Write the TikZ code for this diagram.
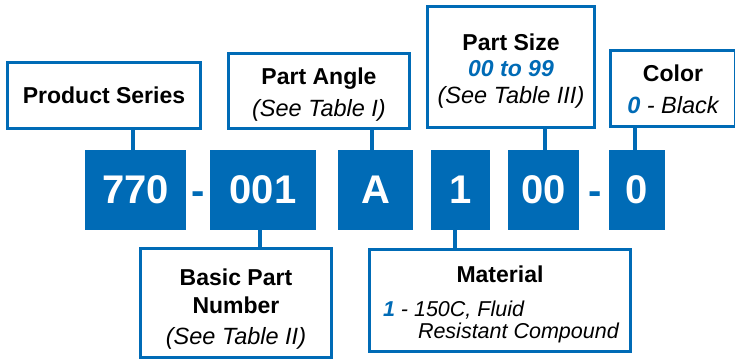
\documentclass[tikz,border=0pt]{standalone}
\usepackage{fontspec}
\setmainfont{Liberation Sans}
\usetikzlibrary{positioning}
\definecolor{codeblue}{HTML}{006BB6}
\newcommand{\tabnote}[1]{{\fontsize{23.5}{27}\selectfont\itshape #1}}
\newcommand{\matnote}[1]{{\fontsize{21.5}{24}\selectfont\itshape #1}}
\newcommand{\hl}[1]{{\color{codeblue}\bfseries\itshape #1}}
\newcommand{\lift}[1]{\rule{0pt}{#1}}

\begin{document}
\begin{tikzpicture}[x=1pt, y=-1pt,
    label box/.style={draw=codeblue, line width=3.2pt, fill=white, align=center, inner sep=0pt, font=\fontsize{23}{28}\selectfont},
    code box/.style={fill=codeblue, text=white, inner sep=0pt, minimum height=80pt, font=\fontsize{40}{40}\selectfont\bfseries},
    sep/.style={text=codeblue, inner sep=0pt, anchor=base, font=\fontsize{40}{40}\selectfont\bfseries},
    link/.style={draw=codeblue, line width=4.2pt}]
\useasboundingbox (0,0) rectangle (735,360);

% part number
\node[code box, minimum width=101pt] (c770) at (135.5,190) {770};
\node[code box, minimum width=106pt] (c001) at (263,190) {001};
\node[code box, minimum width=75pt] (cA) at (375.5,190) {A};
\node[code box, minimum width=59pt] (c1) at (460.5,190) {1};
\node[code box, minimum width=71pt] (c00) at (543.5,190) {00};
\node[code box, minimum width=56pt] (c0) at (637,190) {0};
\node[sep] (d1) at (198.5,204) {-};
\node[sep] (d2) at (595,204) {-};

% top labels
\node[label box, minimum width=193pt, minimum height=66pt] (series) at (104,95.5) {\textbf{Product Series}};
\node[label box, minimum width=181pt, minimum height=75pt] (angle) at (319,91) {\lift{23pt}\textbf{Part Angle}\\[4pt] \tabnote{(See Table I)}};
\node[label box, minimum width=167pt, minimum height=121pt] (size) at (511,67) {\lift{25pt}\textbf{Part Size}\\[-2pt] \hl{00 to 99}\\[-1pt] \tabnote{(See Table III)}};
\node[label box, minimum width=125pt, minimum height=76pt] (color) at (673,88.5) {\lift{19pt}\textbf{Color}\\[4pt] \tabnote{\hl{0} - Black}};

% bottom labels
\node[label box, minimum width=191pt, minimum height=109pt] (basic) at (236,303) {\lift{28pt}\textbf{Basic Part}\\ \textbf{Number}\\[3pt] \tabnote{(See Table II)}};
\node[label box, minimum width=261pt, minimum height=102pt] (material) at (500,300.5) {\lift{25pt}\textbf{Material}\\[6pt]
    \matnote{\makebox[234pt][l]{\hl{1} - 150C, Fluid}}\\[-6pt]
    \matnote{\makebox[234pt][l]{\hspace{35pt}Resistant Compound}}};

% connectors
\draw[link] ([xshift=-2.5pt]c770.north) -- ([xshift=-2.5pt]c770.north |- series.south);
\draw[link] ([xshift=-3.5pt]cA.north) -- ([xshift=-3.5pt]cA.north |- angle.south);
\draw[link] ([xshift=1.5pt]c00.north) -- ([xshift=1.5pt]c00.north |- size.south);
\draw[link] ([xshift=-2pt]c0.north) -- ([xshift=-2pt]c0.north |- color.south);
\draw[link] ([xshift=-3pt]c001.south) -- ([xshift=-3pt]c001.south |- basic.north);
\draw[link] ([xshift=-5.5pt]c1.south) -- ([xshift=-5.5pt]c1.south |- material.north);
\end{tikzpicture}
\end{document}
